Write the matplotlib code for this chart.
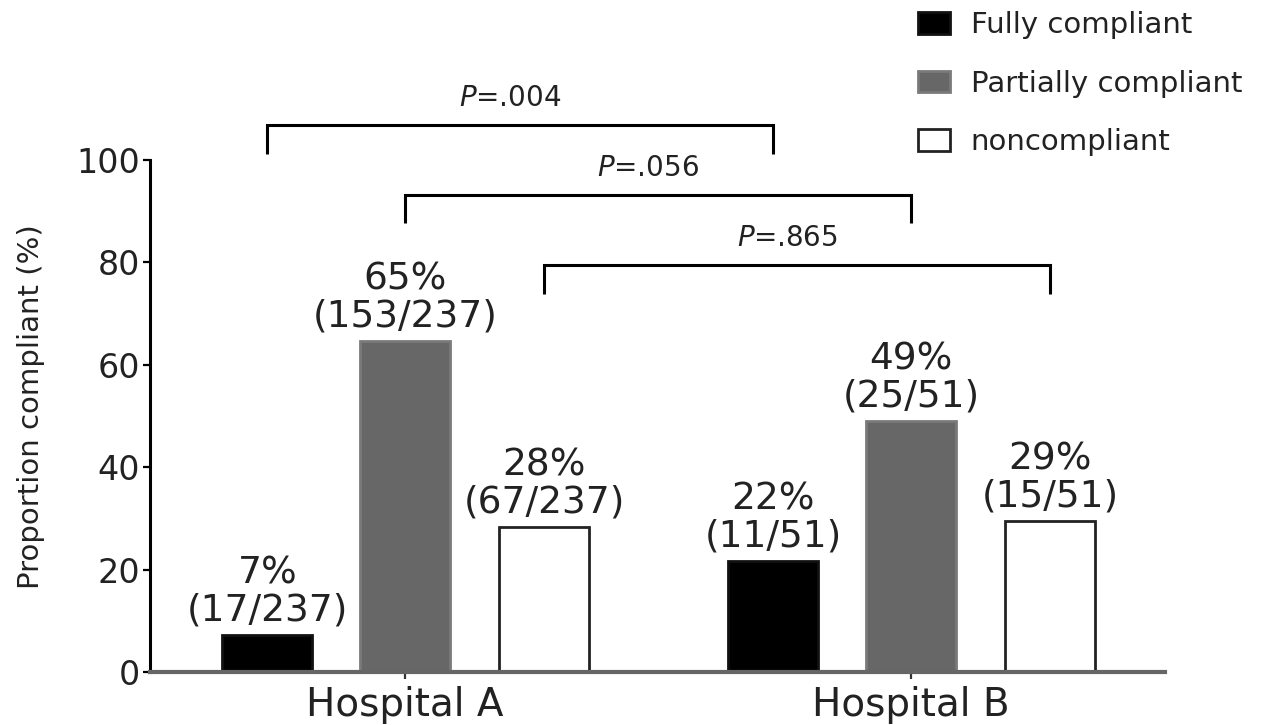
import matplotlib
matplotlib.use("Agg")
import matplotlib.pyplot as plt
from matplotlib.patches import Patch
import numpy as np

plt.rcParams['font.family'] = ['DejaVu Sans']
plt.rcParams['mathtext.fontset'] = 'dejavusans'

# ---- data ----
hospitals = ["Hospital A", "Hospital B"]
categories = ["Fully compliant", "Partially compliant", "noncompliant"]
fully = [7.2, 21.6]
partially = [64.6, 49.0]
noncompliant = [28.3, 29.4]
fully_labels = ["7%\n(17/237)", "22%\n(11/51)"]
partially_labels = ["65%\n(153/237)", "49%\n(25/51)"]
noncompliant_labels = ["28%\n(67/237)", "29%\n(15/51)"]
p_values = [".004", ".056", ".865"]
yticks = [0, 20, 40, 60, 80, 100]

# ---- layout / style ----
W, H = 1266, 725
fig = plt.figure(figsize=(W / 100, H / 100), dpi=100)
ax = fig.add_axes([150 / W, 1 - 672 / H, 1015 / W, 512 / H])

x = np.arange(len(hospitals))
offsets = [-0.272, 0.0, 0.275]
width = 0.178
series = [fully, partially, noncompliant]
series_labels = [fully_labels, partially_labels, noncompliant_labels]
facecolors = ["#000000", "#676767", "#ffffff"]
edgecolors = ["#111111", "#7a7a7a", "#222222"]

handles = []
for i in range(3):
    bars = ax.bar(x + offsets[i], series[i], width, color=facecolors[i],
                  edgecolor=edgecolors[i], linewidth=2, zorder=3)
    for b, lab in zip(bars, series_labels[i]):
        ax.annotate(lab, (b.get_x() + b.get_width() / 2, b.get_height()),
                    xytext=(0, 5), textcoords="offset points",
                    ha="center", va="bottom", fontsize=27, linespacing=1.02,
                    color="#222222")
    handles.append(Patch(facecolor=facecolors[i], edgecolor=edgecolors[i],
                         linewidth=2, label=categories[i]))

ax.set_xlim(-0.504, 1.502)
ax.set_ylim(0, 100)
ax.set_yticks(yticks)
ax.set_yticklabels([str(v) for v in yticks])
ax.set_xticks(x)
ax.set_xticklabels(hospitals)

for s in ["top", "right"]:
    ax.spines[s].set_visible(False)
ax.spines["left"].set_linewidth(2.2)
ax.spines["left"].set_color("#000000")
ax.spines["bottom"].set_linewidth(3)
ax.spines["bottom"].set_color("#666666")
ax.spines["bottom"].set_zorder(4)

ax.tick_params(axis="y", direction="out", length=5, width=1.6,
               labelsize=24, pad=2, colors="#000000", labelcolor="#222222")
ax.tick_params(axis="x", direction="out", length=5, width=1.6,
               labelsize=28, pad=5, colors="#333333", labelcolor="#222222")

ax.set_ylabel("Proportion compliant (%)", fontsize=21, color="#222222")
ax.yaxis.set_label_coords(-0.103, 0.518)

# ---- significance brackets ----
bracket_tops = [106.8, 93.2, 79.5]
bracket_drop = 5.6
for i, p in enumerate(p_values):
    left = x[0] + offsets[i]
    right = x[1] + offsets[i]
    top = bracket_tops[i]
    ax.plot([left, left, right, right], [top - bracket_drop, top, top, top - bracket_drop],
            color="#000000", lw=2.2, clip_on=False, solid_capstyle="butt",
            solid_joinstyle="miter")
    ax.text((left + right) / 2 - 0.02, top + 5.3, "$P$=" + p, ha="center",
            va="center", fontsize=20, color="#222222", clip_on=False)

# ---- legend ----
fig.legend(handles=handles, loc="upper left", bbox_to_anchor=(918 / W, 1 - 11 / H),
           frameon=False, fontsize=21, handlelength=1.1, handleheight=0.75,
           handletextpad=0.7, labelspacing=1.05, borderpad=0, borderaxespad=0,
           labelcolor="#222222")

fig.savefig("out.png", dpi=100)
